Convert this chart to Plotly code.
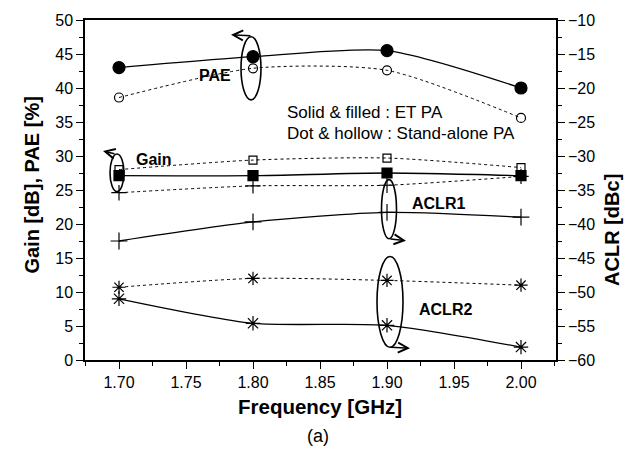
import plotly.graph_objects as go

# ---- data ----
freq = [1.70, 1.80, 1.90, 2.00]
pae_et = [43.0, 44.6, 45.5, 40.0]
pae_sa = [38.6, 42.9, 42.6, 35.6]
gain_et = [27.1, 27.1, 27.5, 27.1]
gain_sa = [28.0, 29.4, 29.7, 28.3]
aclr1_et = [-42.5, -39.7, -38.3, -39.0]
aclr1_sa = [-35.4, -34.4, -34.3, -33.0]
aclr2_et = [-51.0, -54.6, -54.9, -58.1]
aclr2_sa = [-49.3, -48.0, -48.3, -49.0]

x_ticks = [1.70, 1.75, 1.80, 1.85, 1.90, 1.95, 2.00]
x_ticklabels = ["1.70", "1.75", "1.80", "1.85", "1.90", "1.95", "2.00"]

W, H = 635, 455
L, R, T, B = 85, 556, 15, 360

def px(x):
    return (x - L) / (R - L)

def py(y):
    return (B - y) / (B - T)

FONT = "Liberation Sans, Arial, sans-serif"

fig = go.Figure()

def add(y, dash, symbol, size, lw, axis="y", mlw=1.2):
    fig.add_trace(go.Scatter(
        x=freq, y=y, mode="lines+markers", yaxis=axis,
        line=dict(color="black", width=lw, dash=dash, shape="spline", smoothing=0.7),
        marker=dict(symbol=symbol, size=size, color="black",
                    line=dict(color="black", width=mlw)),
        showlegend=False, cliponaxis=False))

add(pae_sa, "dot", "circle-open", 9, 1.0)
add(pae_et, "solid", "circle", 12, 1.3)
add(gain_sa, "dot", "square-open", 8, 1.0)
add(gain_et, "solid", "square", 10, 1.3)
add(aclr1_sa, "dot", "cross-thin-open", 11, 1.0, "y2")
add(aclr1_et, "solid", "cross-thin-open", 12, 1.3, "y2")
add(aclr2_sa, "dot", "asterisk-open", 11, 1.0, "y2")
add(aclr2_et, "solid", "asterisk-open", 12, 1.3, "y2")

tickfont = dict(family=FONT, size=16, color="black")
fig.update_layout(
    width=W, height=H,
    margin=dict(l=L, r=W - R, t=T, b=H - B),
    paper_bgcolor="white", plot_bgcolor="white",
    xaxis=dict(range=[1.70 - 34 / 67 * 0.05, 2.00 + 35 / 67 * 0.05],
               tickvals=x_ticks, ticktext=x_ticklabels,
               ticks="outside", ticklen=7, tickwidth=1.3, tickcolor="black",
               minor=dict(ticks="outside", ticklen=4, dtick=0.025, tick0=1.70,
                          tickcolor="black", tickwidth=1.2),
               showline=True, linecolor="black", linewidth=1.5, mirror=True,
               showgrid=False, zeroline=False, tickfont=tickfont),
    yaxis=dict(range=[0, 50], dtick=5, ticks="outside", ticklen=7, tickwidth=1.3,
               tickcolor="black",
               minor=dict(ticks="outside", ticklen=4, dtick=2.5, tickcolor="black",
                          tickwidth=1.2),
               showline=True, linecolor="black", linewidth=1.5,
               showgrid=False, zeroline=False, tickfont=tickfont),
    yaxis2=dict(range=[-60, -10], dtick=5, overlaying="y", side="right",
                ticks="outside", ticklen=7, tickwidth=1.3, tickcolor="black",
                minor=dict(ticks="outside", ticklen=4, dtick=2.5, tickcolor="black",
                           tickwidth=1.2),
                showline=True, linecolor="black", linewidth=1.5,
                showgrid=False, zeroline=False, tickfont=tickfont),
)

# axis titles / caption as annotations
def text(xp, yp, s, size, bold=False, angle=0, xanchor="center"):
    fig.add_annotation(x=px(xp), y=py(yp), xref="paper", yref="paper",
                       text=f"<b>{s}</b>" if bold else s, showarrow=False,
                       textangle=angle, xanchor=xanchor, yanchor="middle",
                       font=dict(family=FONT, size=size, color="black"))

text(32, 183, "Gain [dB], PAE [%]", 20, True, -90)
text(612, 228, "ACLR [dBc]", 20, True, -90)
text(320, 407, "Frequency [GHz]", 20.5, True)
text(318, 437, "(a)", 18)

text(215, 71, "PAE", 16, True)
text(154, 157, "Gain", 16, True)
text(438, 201, "ACLR1", 16, True)
text(445, 309, "ACLR2", 16, True)
text(285, 109, "Solid &amp; filled : ET PA", 17, False, 0, "left")
text(285, 130, "Dot &amp; hollow : Stand-alone PA", 17, False, 0, "left")

# ellipse loops with arrows
def ellipse(cx, cy, rx, ry):
    k = 0.5523
    def P(x, y):
        return f"{px(x):.5f},{py(y):.5f}"
    path = (f"M {P(cx, cy - ry)} "
            f"C {P(cx + k * rx, cy - ry)} {P(cx + rx, cy - k * ry)} {P(cx + rx, cy)} "
            f"C {P(cx + rx, cy + k * ry)} {P(cx + k * rx, cy + ry)} {P(cx, cy + ry)} "
            f"C {P(cx - k * rx, cy + ry)} {P(cx - rx, cy + k * ry)} {P(cx - rx, cy)} "
            f"C {P(cx - rx, cy - k * ry)} {P(cx - k * rx, cy - ry)} {P(cx, cy - ry)}")
    fig.add_shape(type="path", path=path, xref="paper", yref="paper",
                  line=dict(color="black", width=1.6))

def arrow(hx, hy, tx, ty):
    fig.add_annotation(x=px(hx), y=py(hy), xref="paper", yref="paper",
                       ax=tx - hx, ay=ty - hy, showarrow=True, arrowhead=5,
                       arrowsize=1.3, arrowwidth=1.5, arrowcolor="black", text="")

ellipse(251, 64, 10, 32)
arrow(231, 30, 252, 31)
ellipse(117, 170, 7, 19)
arrow(103, 148, 116, 151)
ellipse(389, 207, 7.5, 30)
arrow(406, 239, 389, 237)
ellipse(390, 301, 13, 46)
arrow(410, 348, 389, 347)

fig.write_html("out.html")
